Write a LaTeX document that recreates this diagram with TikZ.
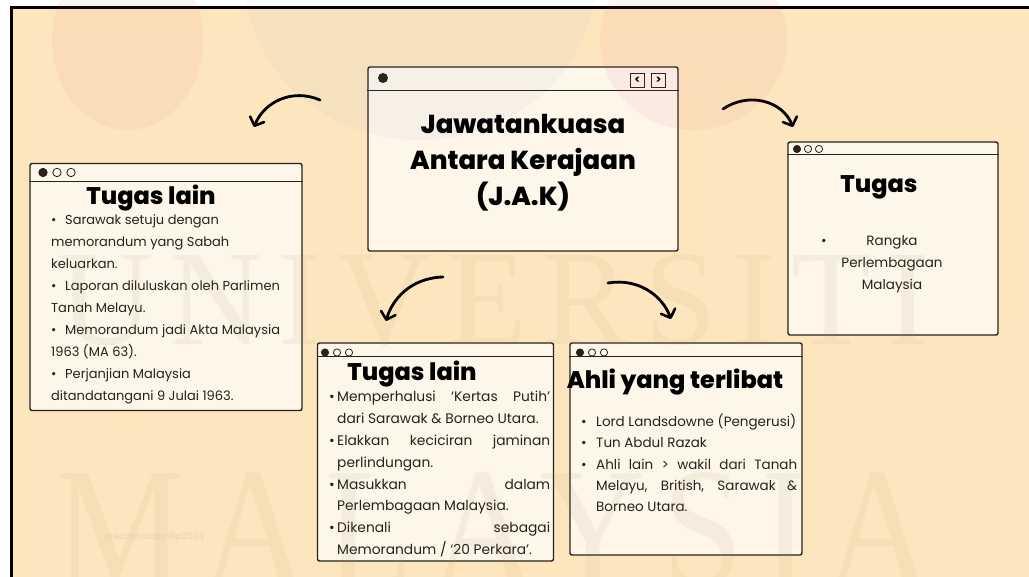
\documentclass[tikz,border=0pt]{standalone}
\usepackage{fontspec}
\setmainfont{Poppins}
\IfFontExistsTF{Poppins ExtraBold}
  {\newfontfamily\headf{Poppins ExtraBold}}
  {\newfontfamily\headf{Poppins}[UprightFeatures={FakeBold=0}]\let\oldheadf\headf\renewcommand\headf{\oldheadf\bfseries}}
\newfontfamily\wmf{Liberation Serif}[LetterSpace=12]
\usetikzlibrary{arrows.meta}
\definecolor{bgpeach}{RGB}{253,230,190}
\definecolor{boxfill}{RGB}{253,246,233}
\definecolor{ink}{RGB}{38,34,30}
\definecolor{wmcol}{RGB}{170,130,80}
\definecolor{sigcol}{RGB}{232,210,172}
\definecolor{logopink}{RGB}{235,90,120}
\definecolor{logoblue}{RGB}{70,100,190}
\newcommand\myitem[1]{\par\hangindent=#1\hangafter=1\noindent\makebox[#1][l]{\textbullet}}
\begin{document}
\begin{tikzpicture}[x=1pt,y=-1pt,
  winbox/.style={draw=ink, line width=1.4pt, fill=boxfill, rounded corners=2pt, inner sep=0pt},
  sepline/.style={draw=ink, line width=1.2pt},
  dotf/.style={fill=ink, draw=ink, line width=0.8pt},
  doto/.style={draw=ink, line width=0.8pt, fill=boxfill},
  heading/.style={font=\headf\fontsize{24}{28}\selectfont, text=black, inner sep=0pt, anchor=base},
  body/.style={text=ink, inner sep=0pt, anchor=base west},
  btn/.style={draw=ink, line width=0.9pt, minimum width=14pt, minimum height=14pt, inner sep=0pt,
    font=\bfseries\fontsize{11}{11}\selectfont},
  curvy/.style={line width=2.8pt, line cap=round, draw=black,
    -{Straight Barb[length=7pt,width=15pt,line width=2.6pt,round]}},
  wm/.style={inner sep=0pt, text=wmcol, opacity=0.08, anchor=base}
]
\useasboundingbox (0,0) rectangle (1029,577);
\begin{scope}
\clip (0,0) rectangle (1029,577);
\fill[white] (0,0) rectangle (1029,577);
\fill[bgpeach] (11,7) rectangle (1035,585);
\draw[black, line width=3pt] (11,585) -- (11,7.5) -- (1035,7.5);

% arrows
\coordinate (a1s) at (320,100); \coordinate (a1e) at (254,127);
\coordinate (a2s) at (723,109); \coordinate (a2e) at (793,127);
\coordinate (a3s) at (443,277); \coordinate (a3e) at (386,321);
\coordinate (a4s) at (608,283); \coordinate (a4e) at (671,319);
\draw[curvy] (a1s) .. controls (292,88) and (264,102) .. (a1e);
\draw[curvy] (a2s) .. controls (748,92) and (782,100) .. (a2e);
\draw[curvy] (a3s) .. controls (410,278) and (392,300) .. (a3e);
\draw[curvy] (a4s) .. controls (638,278) and (662,295) .. (a4e);

% centre box
\node[winbox, minimum width=310pt, minimum height=184pt] (cbox) at (523,159) {};
\draw[sepline] ([yshift=-24pt]cbox.north west) -- ([yshift=-24pt]cbox.north east);
\fill[ink] (383,78) circle[radius=5pt];
\node[btn] (bl) at (637.5,80.5) {\textless};
\node[btn] (br) at (658.5,80.5) {\textgreater};
\node[font=\headf\fontsize{26}{36}\selectfont, text=black, inner sep=0pt, anchor=base] (ctitle) at (523,134)
  {\parbox[t]{300pt}{\centering Jawatankuasa\\Antara Kerajaan\\(J.A.K)}};

% left box
\node[winbox, minimum width=272pt, minimum height=247pt] (lbox) at (166,287) {};
\draw[sepline] ([yshift=-19pt]lbox.north west) -- ([yshift=-19pt]lbox.north east);
\filldraw[dotf] (43,172.5) circle[radius=4.2pt];
\filldraw[doto] (57,172.5) circle[radius=4.2pt];
\filldraw[doto] (71,172.5) circle[radius=4.2pt];
\node[heading] (lhead) at (151,205) {Tugas lain};
\node[body, font=\fontsize{13}{22}\selectfont] (ltext) at (51,224.5) {\parbox[t]{240pt}{\raggedright
\myitem{14pt}Sarawak setuju dengan\\memorandum yang Sabah\\keluarkan.
\myitem{14pt}Laporan diluluskan oleh Parlimen\\Tanah Melayu.
\myitem{14pt}Memorandum jadi Akta Malaysia\\1963 (MA 63).
\myitem{14pt}Perjanjian Malaysia\\ditandatangani 9 Julai 1963.}};

% middle box
\node[winbox, minimum width=236pt, minimum height=218pt] (mbox) at (435.5,452) {};
\draw[sepline] ([yshift=-14pt]mbox.north west) -- ([yshift=-14pt]mbox.north east);
\filldraw[dotf] (325,352.5) circle[radius=3.6pt];
\filldraw[doto] (337,352.5) circle[radius=3.6pt];
\filldraw[doto] (349,352.5) circle[radius=3.6pt];
\node[heading] (mhead) at (412,381) {Tugas lain};
\node[body, font=\fontsize{13.8}{21.9}\selectfont] (mtext) at (329,401.5) {\parbox[t]{221pt}{%
\myitem{8pt}Memperhalusi ‘Kertas Putih’\linebreak dari Sarawak \& Borneo Utara.
\myitem{8pt}Elakkan keciciran jaminan\linebreak perlindungan.
\myitem{8pt}Masukkan dalam\linebreak Perlembagaan Malaysia.
\myitem{8pt}Dikenali sebagai\linebreak Memorandum / ‘20 Perkara’.}};

% ahli box
\node[winbox, minimum width=232pt, minimum height=212pt] (abox) at (686,449) {};
\draw[sepline] ([yshift=-14pt]abox.north west) -- ([yshift=-14pt]abox.north east);
\filldraw[dotf] (580,352.5) circle[radius=3.6pt];
\filldraw[doto] (592,352.5) circle[radius=3.6pt];
\filldraw[doto] (604,352.5) circle[radius=3.6pt];
\node[heading] (ahead) at (675,389) {Ahli yang terlibat};
\node[body, font=\fontsize{13.5}{21.3}\selectfont] (atext) at (581,426.5) {\parbox[t]{216pt}{%
\myitem{15pt}Lord Landsdowne (Pengerusi)
\myitem{15pt}Tun Abdul Razak
\myitem{15pt}Ahli lain > wakil dari Tanah\linebreak Melayu, British, Sarawak \&\linebreak Borneo Utara.}};

% right box
\node[winbox, minimum width=210pt, minimum height=193pt] (rbox) at (893,238.5) {};
\draw[sepline] ([yshift=-13pt]rbox.north west) -- ([yshift=-13pt]rbox.north east);
\filldraw[dotf] (797,149) circle[radius=3.6pt];
\filldraw[doto] (808,149) circle[radius=3.6pt];
\filldraw[doto] (819,149) circle[radius=3.6pt];
\node[heading] (rhead) at (879,193) {Tugas};
\node[body, font=\fontsize{13.5}{22}\selectfont, anchor=base] (rbul) at (824,245.5) {\textbullet};
\node[body, font=\fontsize{13.5}{22}\selectfont, anchor=base] (rtext) at (892,245.5)
  {\parbox[t]{140pt}{\centering Rangka\\Perlembagaan\\Malaysia}};

% logo overlay
\fill[logopink, opacity=0.07] (127.5,40) ellipse[x radius=75.5pt, y radius=90pt];
\fill[logoblue, opacity=0.035] (420,-20) ellipse[x radius=175pt, y radius=160pt];
\fill[logopink, opacity=0.07] (693.5,40) ellipse[x radius=93.5pt, y radius=90pt];

% watermark
\node[wm] (wm1) at (495,345) {\resizebox{870pt}{90pt}{\wmf UNIVERSITI}};
\node[wm] (wm2) at (494,585) {\resizebox{876pt}{113pt}{\wmf MALAYSIA}};
\node[font=\fontsize{9}{9}\selectfont, text=sigcol, inner sep=0pt, anchor=west] (sig) at (104,537) {@lucianasaphilip2024};
\end{scope}
\end{tikzpicture}
\end{document}
